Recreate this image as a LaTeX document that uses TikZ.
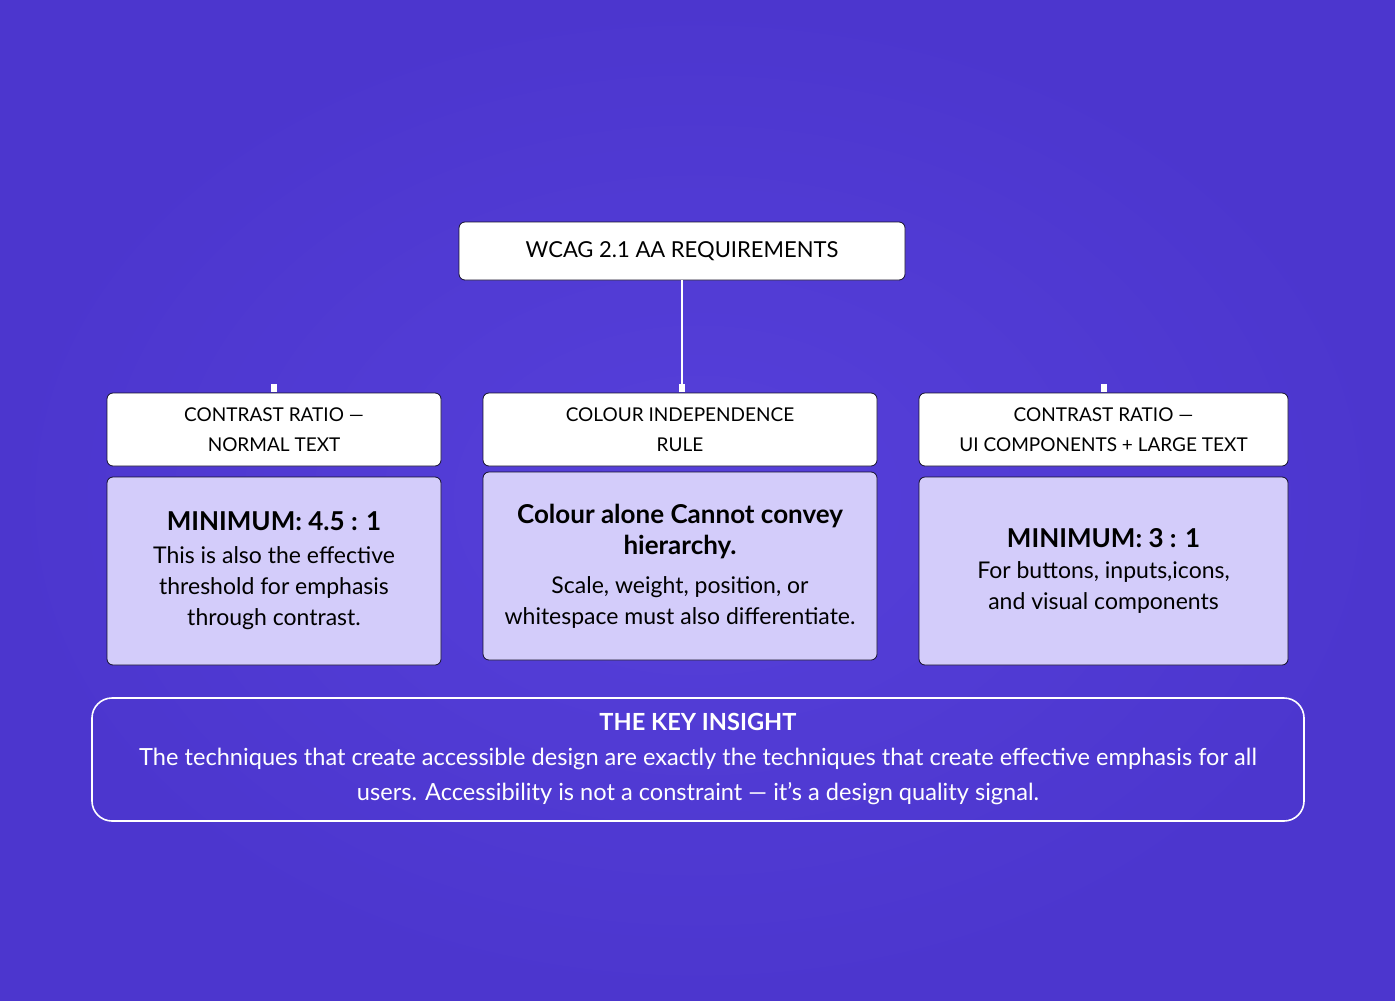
\documentclass[tikz,border=0pt]{standalone}
\usepackage{fontspec}
\setmainfont{Lato}
\usetikzlibrary{positioning}
\definecolor{bgpurple}{HTML}{4C36CE}
\definecolor{bglight}{HTML}{5640DA}
\definecolor{cardfill}{HTML}{D3CCFA}
\definecolor{inkdark}{HTML}{14102A}
\newcommand{\cardtitle}[1]{{\fontsize{13}{15}\selectfont\bfseries #1}}
\tikzset{
    topbox/.style={rectangle, rounded corners=3pt, draw=inkdark, fill=white,
        minimum width=223pt, minimum height=29pt, text=black, font=\fontsize{11}{13}\selectfont},
    headbox/.style={rectangle, rounded corners=3pt, draw=inkdark, fill=white,
        minimum height=36.5pt, align=center, text=black, font=\fontsize{9.5}{15}\selectfont},
    cardbox/.style={rectangle, rounded corners=3pt, draw=inkdark, fill=cardfill,
        minimum height=94pt, align=center, text=black, font=\fontsize{11.5}{15.5}\selectfont},
    stub/.style={fill=white, draw=none, minimum width=3pt, minimum height=4pt, inner sep=0pt},
    insightbox/.style={rectangle, rounded corners=10pt, draw=white, thick,
        minimum width=606pt, minimum height=61.5pt, align=center, text=white,
        font=\fontsize{11.8}{17.5}\selectfont},
}
\begin{document}
\begin{tikzpicture}[x=0.5pt, y=-0.5pt]
    % background
    \fill[inner color=bglight, outer color=bgpurple] (0,0) rectangle (1395,1000);
    \useasboundingbox (0,0) rectangle (1395,1000);

    \node[topbox] (wcag) at (682,251) {WCAG 2.1 AA REQUIREMENTS};

    % column headers
    \node[headbox, minimum width=167pt] (hnormal) at (274,429.5) {CONTRAST RATIO —\\NORMAL TEXT};
    \node[headbox, minimum width=197pt] (hcolour) at (680,429.5) {COLOUR INDEPENDENCE\\RULE};
    \node[headbox, minimum width=184.5pt] (hui) at (1103.5,429.5) {CONTRAST RATIO —\\UI COMPONENTS + LARGE TEXT};

    \node[stub, above=0pt of hnormal] (snormal) {};
    \node[stub, anchor=south] (scolour) at (wcag.south |- hcolour.north) {};
    \node[stub, above=0pt of hui] (sui) {};

    % cards
    \node[cardbox, minimum width=167pt] (cnormal) at (274,571)
        {\cardtitle{MINIMUM: 4.5 : 1}\\[1pt]
         This is also the effective\\threshold for emphasis\\through contrast.};
    \node[cardbox, minimum width=197pt] (ccolour) at (680,566)
        {\cardtitle{Colour alone Cannot convey}\\\cardtitle{hierarchy.}\\[4pt]
         Scale, weight, position, or\\whitespace must also differentiate.};
    \node[cardbox, minimum width=184.5pt] (cui) at (1103.5,571)
        {\cardtitle{MINIMUM: 3 : 1}\\
         For buttons, inputs,icons,\\and visual components};

    \draw[white, line width=0.8pt] (wcag.south) -- (scolour.north);

    % key insight
    \node[insightbox] (insight) at (698,759.5)
        {\textbf{THE KEY INSIGHT}\\
         The techniques that create accessible design are exactly the techniques that create effective emphasis for all\\
         users. Accessibility is not a constraint — it’s a design quality signal.};
\end{tikzpicture}
\end{document}
